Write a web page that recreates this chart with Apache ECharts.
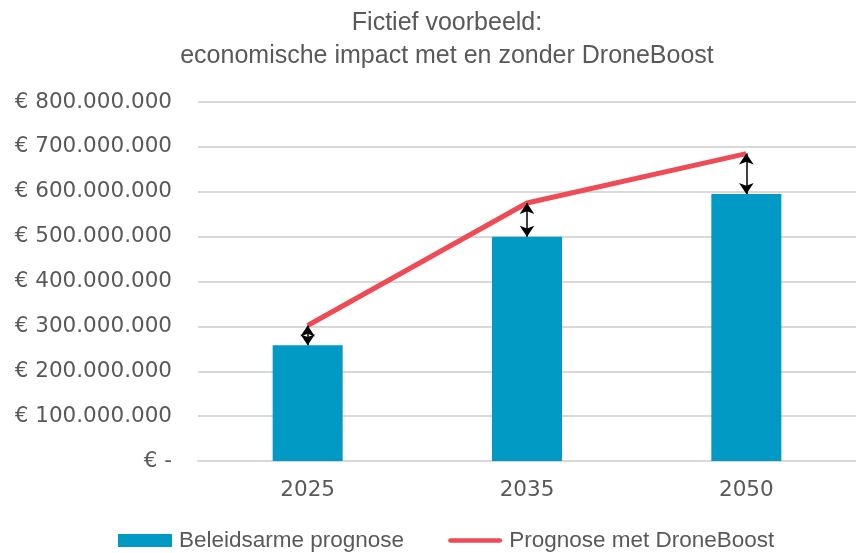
<!DOCTYPE html>
<html>
<head>
<meta charset="utf-8">
<script src="https://cdn.jsdelivr.net/npm/echarts@6/dist/echarts.min.js"></script>
<style>
  html, body { margin: 0; padding: 0; background: #fff; }
  #chart { width: 856px; height: 553px; }
</style>
</head>
<body>
<div id="chart"></div>
<script>
// data
const jaren = ['2025', '2035', '2050'];
const beleidsarm = [258000000, 500000000, 595000000];
const metDroneBoost = [302000000, 575000000, 685000000];
const yTicks = [0, 100000000, 200000000, 300000000, 400000000, 500000000, 600000000, 700000000, 800000000];

const myChart = echarts.init(document.getElementById('chart'));

// punt als duizendtal-scheiding, nul als streepje
function formatEuro(value) {
    if (value === 0) return '€ -';
    return '€ ' + String(value).replace(/\B(?=(\d{3})+(?!\d))/g, '.');
}

// pijltjes tussen balk en lijn
const pijlen = jaren.map((jaar, i) => [
    { coord: [i, beleidsarm[i]] },
    { coord: [i, metDroneBoost[i]] }
]);

const tekstKleur = '#595959';
const lijnKleur = '#ef4b55';

let option = {
    animation: false,
    title: {
        text: 'Fictief voorbeeld:\neconomische impact met en zonder DroneBoost',
        left: 442,
        textAlign: 'center',
        top: 2,
        textStyle: {
            fontFamily: 'Liberation Sans',
            fontWeight: 'normal',
            fontSize: 25,
            lineHeight: 33,
            color: tekstKleur
        }
    },
    legend: {
        bottom: -4,
        left: 113,
        itemGap: 44,
        itemWidth: 54,
        itemHeight: 13,
        textStyle: {
            fontFamily: 'Liberation Sans',
            fontSize: 22.5,
            color: tekstKleur,
            padding: [0, 0, 0, 2]
        },
        data: [
            { name: 'Beleidsarme prognose', icon: 'rect' },
            {
                name: 'Prognose met DroneBoost',
                icon: 'path://M2.5,0h53a2.5,2.5 0 0 1 0,5h-53a2.5,2.5 0 0 1 0,-5z'
            }
        ]
    },
    grid: {
        left: 198,
        top: 102,
        width: 666,
        height: 359,
        containLabel: false
    },
    xAxis: {
        type: 'category',
        data: jaren,
        axisTick: { show: false },
        axisLine: { lineStyle: { color: '#d9d9d9', width: 2 } },
        axisLabel: {
            fontFamily: 'DejaVu Sans',
            fontSize: 21.5,
            color: tekstKleur,
            margin: 18
        }
    },
    yAxis: {
        type: 'value',
        min: yTicks[0],
        max: yTicks[yTicks.length - 1],
        interval: 100000000,
        axisLabel: {
            fontFamily: 'DejaVu Sans',
            fontSize: 21.5,
            color: tekstKleur,
            margin: 26,
            formatter: formatEuro
        },
        splitLine: {
            show: true,
            lineStyle: { color: '#d9d9d9', width: 2 }
        }
    },
    series: [
        {
            name: 'Beleidsarme prognose',
            type: 'bar',
            barWidth: 70,
            itemStyle: { color: '#009ac4' },
            data: beleidsarm,
            markLine: {
                silent: true,
                symbol: ['arrow', 'arrow'],
                symbolSize: [11, 11],
                label: { show: false },
                lineStyle: { color: '#000', width: 1.5, type: 'solid' },
                data: pijlen
            },
            z: 2
        },
        {
            name: 'Prognose met DroneBoost',
            type: 'line',
            symbol: 'none',
            lineStyle: { color: lijnKleur, width: 5 },
            itemStyle: { color: lijnKleur },
            data: metDroneBoost,
            z: 3
        }
    ]
};

myChart.setOption(option);
</script>
</body>
</html>
